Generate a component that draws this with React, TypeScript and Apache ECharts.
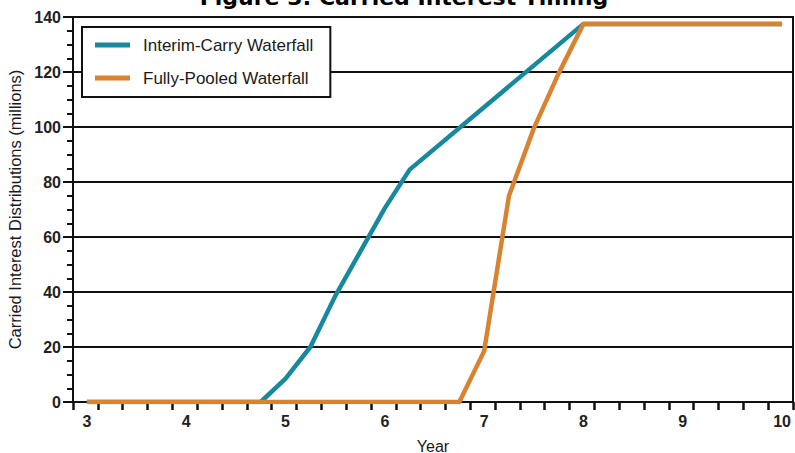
import React, { useEffect, useRef } from "react";
import * as echarts from "echarts";

// Year positions and carried-interest distributions ($ millions)
const interimYears = [3, 4.75, 5, 5.25, 5.5, 5.75, 6, 6.25, 8, 10];
const interimValues = [0, 0, 8.5, 20, 38.5, 54.5, 70.5, 84.5, 137.5, 137.5];

const pooledYears = [3, 6.75, 7, 7.25, 7.5, 7.75, 8, 10];
const pooledValues = [0, 0, 18.5, 75, 99.5, 119.5, 137.5, 137.5];

const yearLabels = [3, 4, 5, 6, 7, 8, 9, 10];
const xMin = 2.86;
const xMax = 10.11;
// quarter-year tick marks along the x axis
const quarterTicks: number[] = [];
for (let k = 0; k <= 29; k++) quarterTicks.push(+(xMin + k * 0.25).toFixed(3));

const TEAL = "#17899e";
const ORANGE = "#d9822f";
const INK = "#111111";
const LABEL_FONT = "Liberation Sans, Arial, sans-serif";

export default function App() {
  const ref = useRef<HTMLDivElement>(null);

  useEffect(() => {
    if (!ref.current) return;
    const chart = echarts.init(ref.current, undefined, { renderer: "svg" });
    const pairs = (xs: number[], ys: number[]) => xs.map((x, i) => [x, ys[i]]);

    chart.setOption({
      animation: false,
      backgroundColor: "#ffffff",
      graphic: [
        {
          type: "text",
          x: 404,
          y: -3,
          style: {
            text: "Figure 3: Carried Interest Timing",
            font: "bold 22px 'DejaVu Sans', Verdana, sans-serif",
            fill: "#000",
            textAlign: "center",
            textVerticalAlign: "middle",
          },
        },
      ],
      grid: {
        left: 73,
        right: 2,
        top: 17,
        bottom: 51,
        containLabel: false,
        outerBoundsMode: "none",
        show: true,
        borderColor: INK,
        borderWidth: 2,
        backgroundColor: "transparent",
      },
      legend: {
        left: 82,
        top: 27,
        orient: "vertical",
        backgroundColor: "#ffffff",
        borderColor: INK,
        borderWidth: 2,
        borderRadius: 0,
        padding: [8, 17, 9, 13],
        itemWidth: 35,
        itemHeight: 5,
        itemGap: 13,
        icon: "rect",
        textStyle: {
          fontFamily: LABEL_FONT,
          fontSize: 17,
          color: "#1a1a1a",
          lineHeight: 20,
          padding: [0, 0, 0, 8],
        },
        data: ["Interim-Carry Waterfall", "Fully-Pooled Waterfall"],
      },
      xAxis: {
        type: "value",
        min: xMin,
        max: xMax,
        name: "Year",
        nameLocation: "middle",
        nameGap: 36,
        nameTextStyle: { fontFamily: LABEL_FONT, fontSize: 16, color: "#1a1a1a" },
        axisLine: { show: true, lineStyle: { color: INK, width: 2 } },
        axisTick: {
          show: true,
          length: 8,
          lineStyle: { color: INK, width: 2.5 },
          customValues: quarterTicks,
        },
        axisLabel: {
          customValues: yearLabels,
          margin: 11,
          fontFamily: LABEL_FONT,
          fontWeight: "bold",
          fontSize: 16,
          color: "#222",
          showMinLabel: true,
          showMaxLabel: true,
        },
        splitLine: { show: false },
      },
      yAxis: {
        type: "value",
        min: 0,
        max: 140,
        interval: 20,
        name: "Carried Interest Distributions (millions)",
        nameLocation: "middle",
        nameGap: 47,
        nameTextStyle: { fontFamily: LABEL_FONT, fontSize: 16.5, color: "#1a1a1a" },
        axisLine: { show: true, lineStyle: { color: INK, width: 2 } },
        axisTick: { show: true, length: 10, lineStyle: { color: INK, width: 2 } },
        minorTick: { show: true, splitNumber: 4, length: 6, lineStyle: { color: INK, width: 2 } },
        axisLabel: {
          margin: 12,
          fontFamily: LABEL_FONT,
          fontWeight: "bold",
          fontSize: 16,
          color: "#222",
        },
        splitLine: { show: true, lineStyle: { color: INK, width: 2 } },
      },
      series: [
        {
          name: "Interim-Carry Waterfall",
          type: "line",
          data: pairs(interimYears, interimValues),
          showSymbol: false,
          symbol: "none",
          lineStyle: { color: TEAL, width: 4.5, join: "round", cap: "butt" },
          itemStyle: { color: TEAL },
          z: 3,
        },
        {
          name: "Fully-Pooled Waterfall",
          type: "line",
          data: pairs(pooledYears, pooledValues),
          showSymbol: false,
          symbol: "none",
          lineStyle: { color: ORANGE, width: 4.5, join: "round", cap: "butt" },
          itemStyle: { color: ORANGE },
          z: 4,
        },
      ],
    });

    return () => chart.dispose();
  }, []);

  return (
    <div
      ref={ref}
      style={{ position: "fixed", left: 0, top: 0, width: 795, height: 453 }}
    />
  );
}
